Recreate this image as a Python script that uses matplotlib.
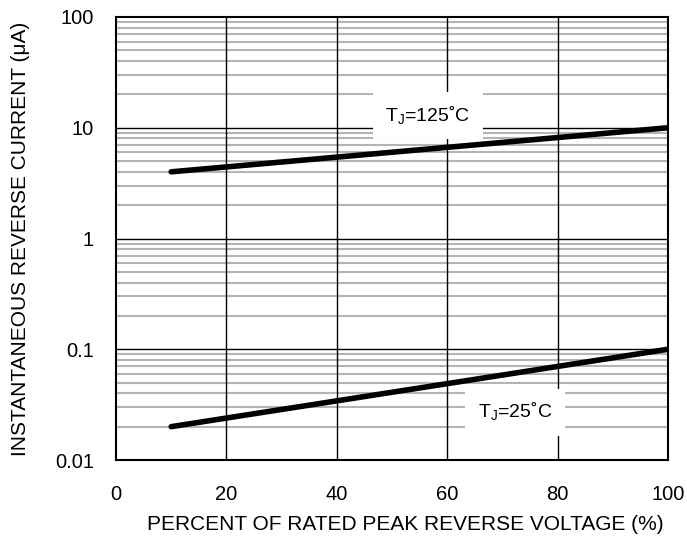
import numpy as np
import matplotlib.pyplot as plt
from matplotlib.ticker import FixedLocator, NullFormatter

plt.rcParams['font.family'] = ['Liberation Sans', 'DejaVu Sans']
plt.rcParams['mathtext.fontset'] = 'custom'
plt.rcParams['mathtext.rm'] = 'Liberation Sans'

# percent of rated peak reverse voltage
voltage_pct = [10, 100]
# reverse current (uA)
current_125c = [4.0, 10.0]
current_25c = [0.02, 0.1]

y_ticks = [0.01, 0.1, 1, 10, 100]
y_tick_labels = ["0.01", "0.1", "1", "10", "100"]
x_ticks = [0, 20, 40, 60, 80, 100]

fig = plt.figure(figsize=(6.87, 5.42), dpi=100)
ax = fig.add_axes([116/687, 1 - 460/542, (668-116)/687, (460-17)/542])

ax.set_yscale('log')
ax.set_xlim(0, 100)
ax.set_ylim(0.01, 100)

minor = [m * 10.0**e for e in range(-2, 2) for m in range(2, 10)]
ax.yaxis.set_minor_locator(FixedLocator(minor))
ax.yaxis.set_minor_formatter(NullFormatter())
ax.set_yticks(y_ticks)
ax.set_yticklabels(y_tick_labels)
ax.set_xticks(x_ticks)

# gray minor lines underneath, black major lines on top
for v in minor:
    ax.axhline(v, color='#b4b4b4', linewidth=1.5, zorder=1)
for v in y_ticks[1:-1]:
    ax.axhline(v, color='black', linewidth=1.0, zorder=2)
for v in x_ticks[1:-1]:
    ax.axvline(v, color='black', linewidth=1.0, zorder=2)

for s in ax.spines.values():
    s.set_linewidth(1.5)

ax.tick_params(which='both', length=0, labelsize=14.5)
ax.tick_params(axis='y', pad=16)
ax.tick_params(axis='x', pad=18)

ax.plot(voltage_pct, current_125c, color='black', linewidth=4, solid_capstyle='round', zorder=5)
ax.plot(voltage_pct, current_25c, color='black', linewidth=4, solid_capstyle='round', zorder=5)

box = dict(facecolor='white', edgecolor='none', pad=9)
ax.text(56.5, 12.8, r'T$_\mathregular{J}$=125˚C', fontsize=14, ha='center', va='center', bbox=box, zorder=4)
ax.text(72.3, 0.027, r'T$_\mathregular{J}$=25˚C', fontsize=14, ha='center', va='center', bbox=box, zorder=4)

ax.set_xlabel("PERCENT OF RATED PEAK REVERSE VOLTAGE (%)", fontsize=15)
ax.set_ylabel("INSTANTANEOUS REVERSE CURRENT (μA)", fontsize=15)
ax.xaxis.set_label_coords(0.525, -0.125)
ax.yaxis.set_label_coords(-0.156, 0.5)

fig.savefig("out.png", dpi=100)
